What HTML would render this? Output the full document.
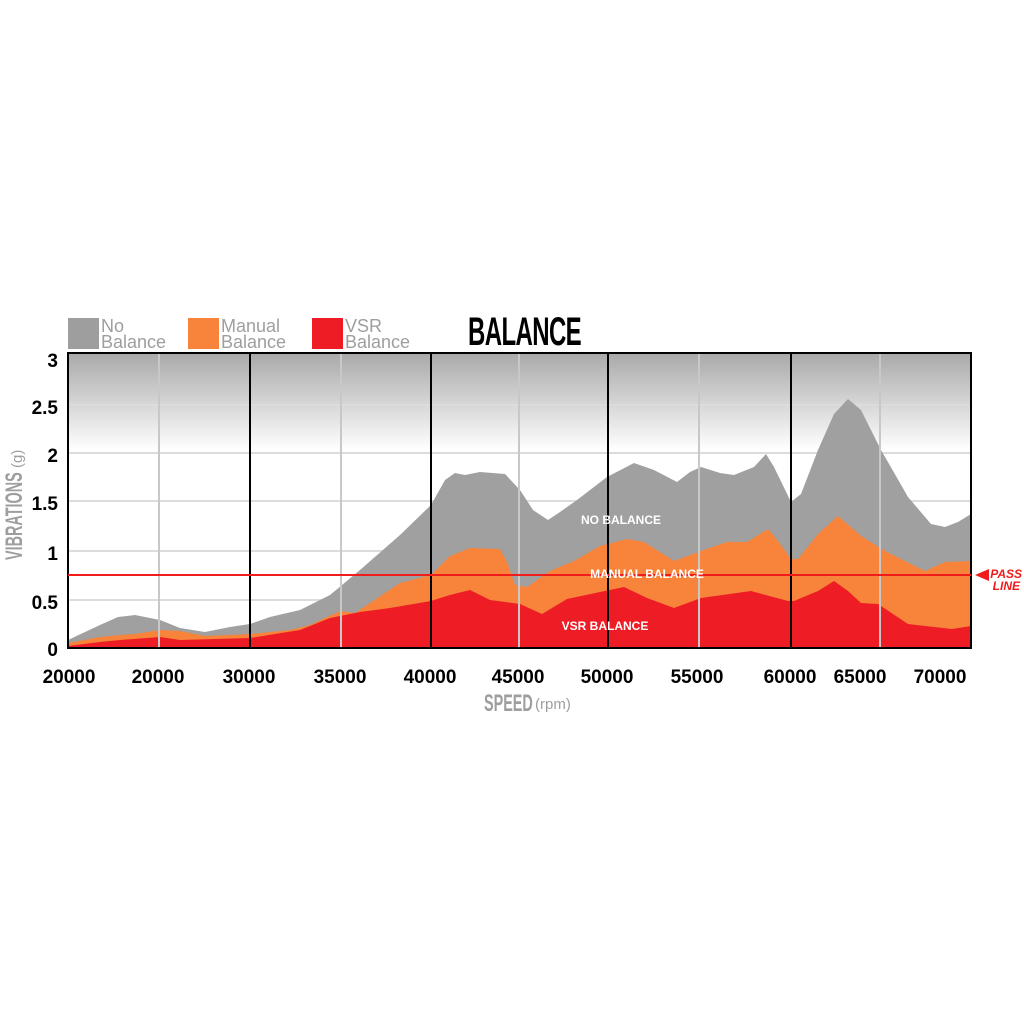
<!DOCTYPE html>
<html><head><meta charset="utf-8"><style>body{margin:0;background:#fff}svg{display:block}</style></head><body>
<svg width="1024" height="1024" viewBox="0 0 1024 1024" xmlns="http://www.w3.org/2000/svg" font-family="Liberation Sans, sans-serif">
<defs>
<linearGradient id="bg" x1="0" y1="0" x2="0" y2="1">
<stop offset="0" stop-color="#a9a9a9"/><stop offset="0.33" stop-color="#ffffff"/><stop offset="1" stop-color="#ffffff"/>
</linearGradient>
</defs>
<rect x="68" y="318" width="31" height="31" fill="#9e9e9e"/>
<text x="101" y="332" font-size="18" fill="#9e9e9e">No</text>
<text x="101" y="348" font-size="18" fill="#9e9e9e">Balance</text>
<rect x="188" y="318" width="31" height="31" fill="#f7843a"/>
<text x="221" y="332" font-size="18" fill="#9e9e9e">Manual</text>
<text x="221" y="348" font-size="18" fill="#9e9e9e">Balance</text>
<rect x="312" y="318" width="31" height="31" fill="#ee1c25"/>
<text x="345" y="332" font-size="18" fill="#9e9e9e">VSR</text>
<text x="345" y="348" font-size="18" fill="#9e9e9e">Balance</text>
<text x="0" y="0" font-size="40" font-weight="bold" fill="#000" transform="translate(468,345) scale(0.6,1)" letter-spacing="-1">BALANCE</text>
<rect x="68" y="353" width="903" height="295" fill="url(#bg)"/>
<g stroke="#dcdcdc" stroke-width="2">
<line x1="68" y1="405" x2="971" y2="405"/><line x1="68" y1="453" x2="971" y2="453"/>
<line x1="68" y1="501" x2="971" y2="501"/><line x1="68" y1="551" x2="971" y2="551"/>
<line x1="68" y1="600" x2="971" y2="600"/>
</g>
<path fill="#a0a0a0" d="M68,640 L100,625 L118,617 L135,615 L160,620 L180,628 L205,632 L230,627 L250,624 L270,617 L300,610 L330,595 L360,570 L400,535 L431,505 L445,480 L455,473 L465,475 L480,472 L505,474 L520,490 L533,510 L548,520 L560,512 L577,500 L607,477 L634,463 L654,470 L677,482 L690,472 L701,467 L720,473 L734,475 L754,467 L766,454 L774,467 L791,502 L801,494 L818,450 L834,414 L848,399 L861,410 L881,450 L908,497 L931,524 L945,527 L958,522 L971,514 L971,648 L68,648 Z"/>
<path fill="#f7843a" d="M68,643 L100,637 L120,635 L135,634 L160,630 L180,631 L205,636 L250,634 L290,630 L310,625 L340,611 L355,613 L370,603 L400,583 L431,575 L450,556 L470,548 L500,549 L507,562 L515,585 L527,587 L550,571 L574,561 L600,546 L627,539 L644,542 L674,561 L701,551 L727,542 L747,542 L768,529 L778,541 L791,559 L798,559 L818,534 L838,516 L861,536 L885,551 L925,571 L945,562 L971,561 L971,648 L68,648 Z"/>
<path fill="#ee1c25" d="M68,646 L100,642 L120,640 L160,637 L180,640 L250,638 L300,630 L330,618 L360,612 L390,608 L431,601 L450,595 L470,590 L490,600 L520,604 L542,614 L567,599 L600,592 L624,587 L647,598 L674,608 L701,598 L751,591 L788,601 L794,601 L818,591 L834,581 L848,591 L861,603 L878,604 L908,624 L925,626 L952,629 L971,626 L971,648 L68,648 Z"/>
<g stroke="#c8c8c8" stroke-width="2">
<line x1="159" y1="353" x2="159" y2="648"/><line x1="341" y1="353" x2="341" y2="648"/>
<line x1="519" y1="353" x2="519" y2="648"/><line x1="699" y1="353" x2="699" y2="648"/>
<line x1="880" y1="353" x2="880" y2="648"/>
</g>
<g stroke="#000" stroke-width="2">
<line x1="250" y1="353" x2="250" y2="648"/><line x1="431" y1="353" x2="431" y2="648"/>
<line x1="608" y1="353" x2="608" y2="648"/><line x1="791" y1="353" x2="791" y2="648"/>
</g>
<rect x="68" y="353" width="903" height="295" fill="none" stroke="#000" stroke-width="2"/>
<line x1="68" y1="575" x2="971" y2="575" stroke="#f01c1c" stroke-width="2"/>
<polygon points="975,575 989,569 989,581" fill="#f01c1c"/>
<text x="1022" y="578" font-size="12" font-weight="bold" font-style="italic" fill="#f01c1c" text-anchor="end">PASS</text>
<text x="1020" y="590" font-size="12" font-weight="bold" font-style="italic" fill="#f01c1c" text-anchor="end">LINE</text>
<g font-size="12" font-weight="bold" fill="#fff" text-anchor="middle">
<text x="621" y="524">NO BALANCE</text>
<text x="647" y="578">MANUAL BALANCE</text>
<text x="605" y="630">VSR BALANCE</text>
</g>
<g font-size="19" font-weight="bold" fill="#000" text-anchor="end">
<text x="58" y="367">3</text><text x="58" y="414">2.5</text><text x="58" y="462">2</text>
<text x="58" y="510">1.5</text><text x="58" y="560">1</text><text x="58" y="609">0.5</text>
<text x="58" y="656">0</text>
</g>
<g font-size="19" font-weight="bold" fill="#000" text-anchor="middle">
<text x="69" y="683">20000</text><text x="158" y="683">20000</text><text x="249" y="683">30000</text>
<text x="340" y="683">35000</text><text x="430" y="683">40000</text><text x="518" y="683">45000</text>
<text x="607" y="683">50000</text><text x="697" y="683">55000</text><text x="790" y="683">60000</text>
<text x="860" y="683">65000</text><text x="940" y="683">70000</text>
</g>
<text transform="translate(484,711) scale(0.6,1)" font-size="24" font-weight="bold" fill="#9e9e9e">SPEED</text>
<text x="535" y="709" font-size="15" fill="#9e9e9e">(rpm)</text>
<g transform="translate(22,560) rotate(-90)">
<text transform="scale(0.6,1)" font-size="24" font-weight="bold" fill="#9e9e9e">VIBRATIONS</text>
<text x="92" y="0" font-size="15" fill="#9e9e9e">(g)</text>
</g>
</svg>
</body></html>
